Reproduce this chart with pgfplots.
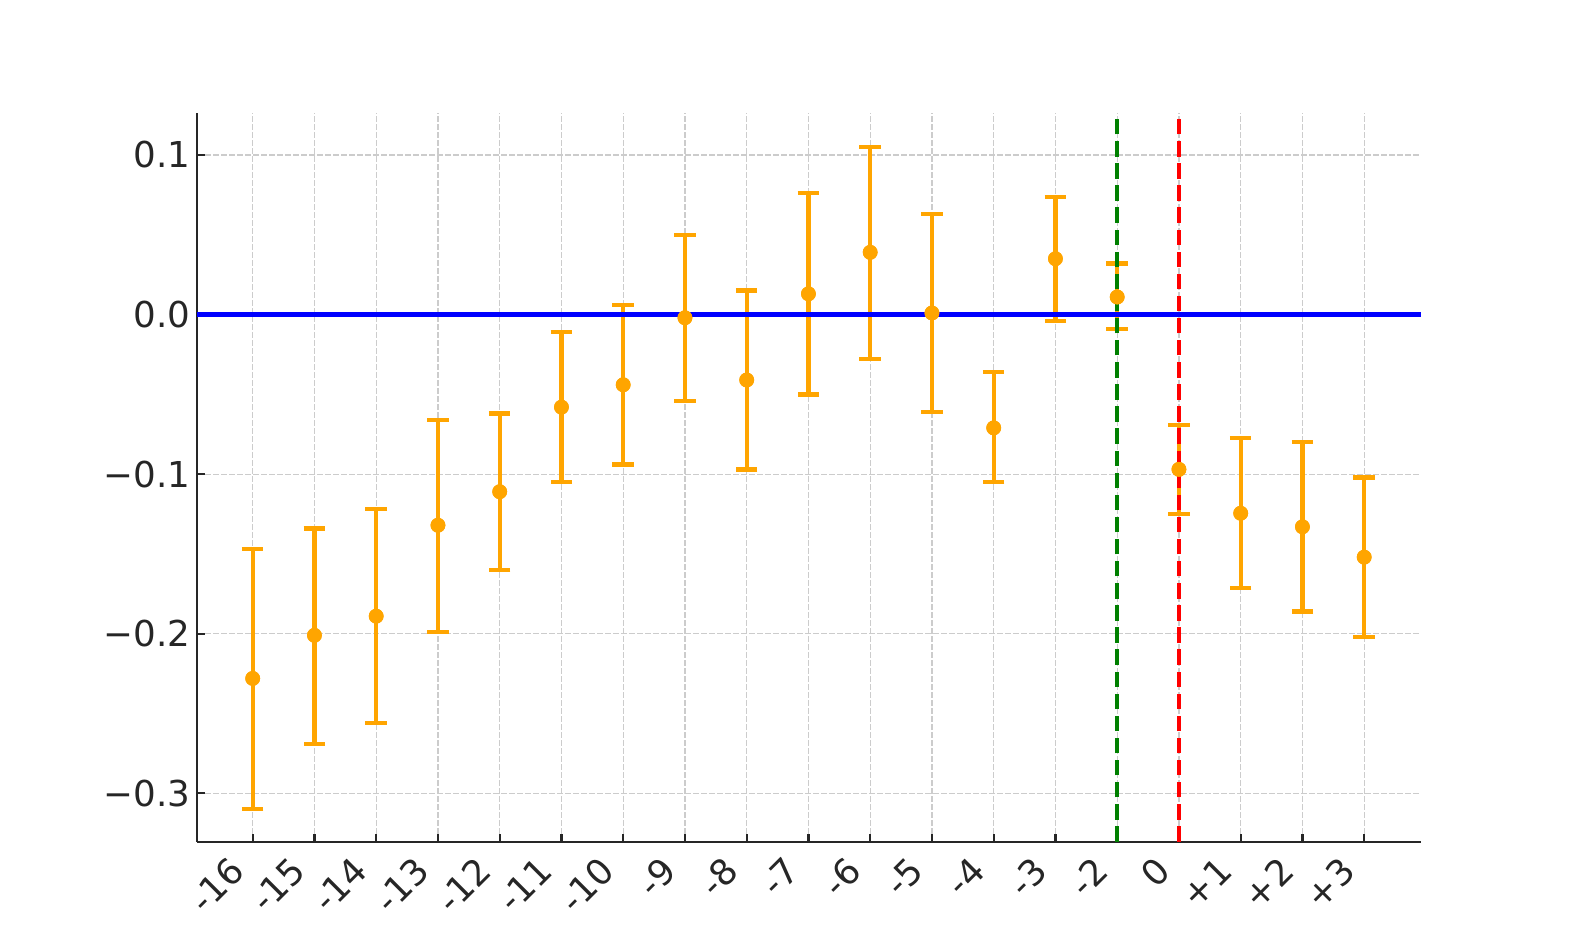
\documentclass[border=0pt]{standalone}
\usepackage{pgfplots}
\usepackage{pgfplotstable}
\pgfplotsset{compat=1.18}
\usepackage{fontspec}
\setmainfont{DejaVu Sans}
\definecolor{mplorange}{RGB}{255,165,0}
\definecolor{mplgreen}{RGB}{0,128,0}
\definecolor{spine}{RGB}{38,38,38}
\pgfplotstableread{
x y ep em
0 -0.228 0.081 0.082
1 -0.201 0.067 0.068
2 -0.189 0.067 0.067
3 -0.132 0.066 0.067
4 -0.111 0.049 0.049
5 -0.058 0.047 0.047
6 -0.044 0.050 0.050
7 -0.002 0.052 0.052
8 -0.041 0.056 0.056
9 0.013 0.063 0.063
10 0.039 0.066 0.067
11 0.001 0.062 0.062
12 -0.071 0.035 0.034
13 0.035 0.0385 0.039
14 0.011 0.021 0.020
15 -0.097 0.028 0.028
16 -0.1245 0.047 0.047
17 -0.133 0.053 0.053
18 -0.152 0.050 0.050
}\data
\begin{document}
\begin{tikzpicture}
\path[use as bounding box] (0,0) rectangle (157.8mm,94.7mm);
\begin{axis}[
  at={(19.73mm,10.53mm)}, anchor=south west,
  width=122.37mm, height=72.9mm, scale only axis,
  xmin=-0.897, xmax=18.92, ymin=-0.3303, ymax=0.1265,
  axis x line*=bottom, axis y line*=left,
  axis line style={line width=0.22mm, spine},
  tick align=inside, major tick length=0.8mm,
  tick style={line width=0.22mm, spine},
  xtick={0,...,18},
  xticklabels={-16,-15,-14,-13,-12,-11,-10,-9,-8,-7,-6,-5,-4,-3,-2,0,+1,+2,+3},
  ytick={-0.3,-0.2,-0.1,0,0.1},
  yticklabels={−0.3,−0.2,−0.1,0.0,0.1},
  xmajorgrids, ymajorgrids,
  grid style={gray!40, line width=0.12mm, dash pattern=on 0.55mm off 0.25mm},
  tick label style={font=\fontsize{10.15}{12}\selectfont, text=spine},
  x tick label style={inner sep=0pt, xshift=-2.5mm, yshift=-1.25mm, rotate=45, anchor=north east},
  y tick label style={inner sep=0pt, xshift=-0.65mm, anchor=east},
  clip=false,
]
\addplot[only marks, mark=*, mark size=0.67mm, mark options={fill=mplorange, draw=mplorange},
  error bars/.cd, y dir=both, y explicit,
  error bar style={line width=0.43mm, mplorange},
  error mark options={rotate=90, mplorange, line width=0.43mm, mark size=1.08mm}]
  table[x=x, y=y, y error plus=ep, y error minus=em] {\data};
\addplot[blue, line width=0.42mm] coordinates {(-0.897,0) (18.92,0)};
\addplot[mplgreen, line width=0.42mm, dash pattern=on 1.54mm off 0.67mm] coordinates {(14,-0.3303) (14,0.1265)};
\addplot[red, line width=0.42mm, dash pattern=on 1.54mm off 0.67mm] coordinates {(15,-0.3303) (15,0.1265)};
\addplot[only marks, mark=*, mark size=0.67mm, mark options={fill=mplorange, draw=mplorange}]
  table[x=x, y=y] {\data};
\end{axis}
\end{tikzpicture}
\end{document}
